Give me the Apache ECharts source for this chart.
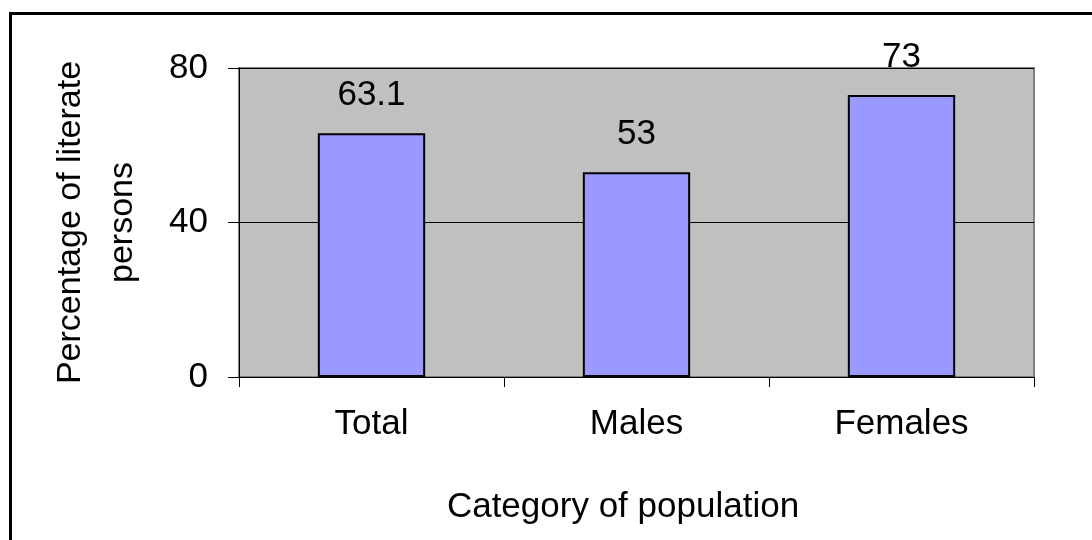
<!DOCTYPE html>
<html>
<head>
<meta charset="utf-8">
<title>Literacy by category of population</title>
<script src="https://cdn.jsdelivr.net/npm/echarts@6/dist/echarts.min.js"></script>
<style>
  html, body { margin: 0; padding: 0; background: #ffffff; }
  #chart { width: 1092px; height: 540px; }
</style>
</head>
<body>
<div id="chart"></div>
<script>
// Literacy rates (%) by category of population
const categories = ['Total', 'Males', 'Females'];
const literacyValues = [63.1, 53, 73];
const yTicks = { min: 0, max: 80, interval: 40 };

const FONT = '"Liberation Sans", Arial, sans-serif';
const chart = echarts.init(document.getElementById('chart'), null, { renderer: 'canvas' });

chart.setOption({
  animation: false,
  backgroundColor: '#ffffff',
  textStyle: { fontFamily: FONT, color: '#000' },
  graphic: [
    {
      // outer chart frame
      type: 'rect',
      z: -1,
      shape: { x: 10.5, y: 13.5, width: 1300, height: 900 },
      style: { fill: 'none', stroke: '#000', lineWidth: 3 }
    }
  ],
  grid: {
    left: 239, top: 68, right: 58, bottom: 163,
    show: true,
    backgroundColor: '#c0c0c0',
    borderColor: '#808080',
    borderWidth: 2
  },
  xAxis: {
    type: 'category',
    data: categories,
    boundaryGap: true,
    name: 'Category of population',
    nameLocation: 'middle',
    nameGap: 113,
    nameTextStyle: { fontSize: 35, fontFamily: FONT, color: '#000', padding: [0, 27, 0, 0] },
    axisLine: { show: true, lineStyle: { color: '#000', width: 1 } },
    axisTick: { show: true, length: 10, lineStyle: { color: '#000' } },
    axisLabel: { fontSize: 35, fontFamily: FONT, color: '#000', margin: 30 },
    splitLine: { show: false }
  },
  yAxis: {
    type: 'value',
    min: yTicks.min,
    max: yTicks.max,
    interval: yTicks.interval,
    name: 'Percentage of literate\npersons',
    nameLocation: 'middle',
    nameRotate: 90,
    nameGap: 90,
    nameTextStyle: { fontSize: 34, fontFamily: FONT, color: '#000', lineHeight: 52 },
    axisLine: { show: true, lineStyle: { color: '#000', width: 1 } },
    axisTick: { show: true, length: 11, lineStyle: { color: '#000' } },
    axisLabel: { fontSize: 35, fontFamily: FONT, color: '#000', margin: 31 },
    splitLine: { show: true, lineStyle: { color: '#000', width: 1 } }
  },
  series: [
    {
      type: 'bar',
      data: literacyValues,
      barWidth: '40.5%',
      itemStyle: { color: '#9999ff', borderColor: '#000', borderWidth: 2 },
      label: {
        show: true,
        position: 'top',
        distance: 20,
        fontSize: 35,
        fontFamily: FONT,
        color: '#000'
      }
    }
  ]
});
</script>
</body>
</html>
